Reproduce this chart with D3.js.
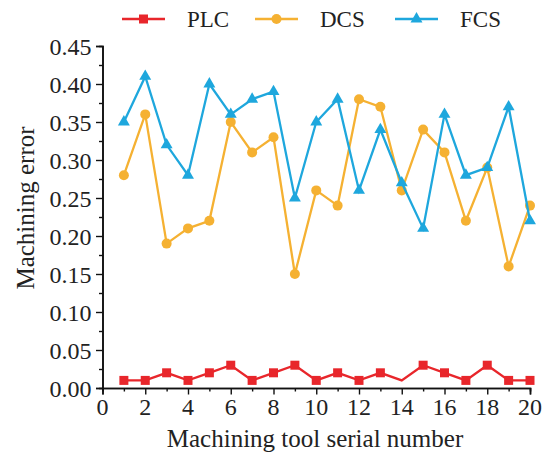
<!DOCTYPE html>
<head>
	<meta charset="utf-8">
	<script src="https://d3js.org/d3.v7.min.js"></script>
	<style>
		body { margin: 0; background: #fff; }
		svg text { font-family: "Liberation Serif", "Times New Roman", serif; fill: #222; }
	</style>
</head>
<body>
	<svg id="chart" width="542" height="457"></svg>
	<script>

	// Data
	var tools = d3.range(1, 21);
	var plc = [0.01,0.01,0.02,0.01,0.02,0.03,0.01,0.02,0.03,0.01,0.02,0.01,0.02,0.01,0.03,0.02,0.01,0.03,0.01,0.01];
	var dcs = [0.28,0.36,0.19,0.21,0.22,0.35,0.31,0.33,0.15,0.26,0.24,0.38,0.37,0.26,0.34,0.31,0.22,0.29,0.16,0.24];
	var fcs = [0.35,0.41,0.32,0.28,0.40,0.36,0.38,0.39,0.25,0.35,0.38,0.26,0.34,0.27,0.21,0.36,0.28,0.29,0.37,0.22];
	var xTicks = d3.range(0, 21, 2);
	var xMinor = d3.range(1, 20, 2);
	var yTicks = [0, 0.05, 0.10, 0.15, 0.20, 0.25, 0.30, 0.35, 0.40, 0.45];
	var yMinor = [0.025, 0.075, 0.125, 0.175, 0.225, 0.275, 0.325, 0.375, 0.425];

	var series = [
		{ name: "PLC", values: plc, color: "#e8262b", shape: "square", skip: [14] },
		{ name: "DCS", values: dcs, color: "#f5b132", shape: "circle", skip: [] },
		{ name: "FCS", values: fcs, color: "#1ea7dd", shape: "triangle", skip: [] }
	];

	var svg = d3.select("svg");
	var x = d3.scaleLinear().domain([0, 20]).range([102.5, 530]);
	var y = d3.scaleLinear().domain([0, 0.45]).range([388, 46]);

	// minor ticks (separate groups so the major axis does not remove them)
	svg.append("g").attr("transform", "translate(0," + y(0) + ")")
		.call(d3.axisBottom(x).tickValues(xMinor).tickSize(3.5).tickFormat(""));
	svg.append("g").attr("transform", "translate(" + x(0) + ",0)")
		.call(d3.axisLeft(y).tickValues(yMinor).tickSize(3.5).tickFormat(""));

	// major axes, labels drawn separately
	svg.append("g").attr("transform", "translate(0," + y(0) + ")")
		.call(d3.axisBottom(x).tickValues(xTicks).tickSize(6.5).tickFormat(""));
	svg.append("g").attr("transform", "translate(" + x(0) + ",0)")
		.call(d3.axisLeft(y).tickValues(yTicks).tickSize(6.5).tickFormat(""));
	svg.selectAll(".domain").attr("stroke", "#111").attr("stroke-width", 1.6);
	svg.selectAll(".tick line").attr("stroke", "#111").attr("stroke-width", 1.4);

	svg.append("g").selectAll("text").data(xTicks).enter().append("text")
		.attr("x", function (d) { return x(d); }).attr("y", y(0) + 27)
		.attr("text-anchor", "middle").style("font-size", "24px")
		.text(d3.format("d"));
	svg.append("g").selectAll("text").data(yTicks).enter().append("text")
		.attr("x", x(0) - 11).attr("y", function (d) { return y(d) + 8.5; })
		.attr("text-anchor", "end").style("font-size", "24px")
		.text(d3.format(".2f"));

	var line = d3.line().x(function (d, i) { return x(tools[i]); }).y(function (d) { return y(d); });

	function marker(g, shape, color, cx, cy) {
		if (shape === "square") {
			g.append("rect").attr("x", cx - 4.5).attr("y", cy - 4.5).attr("width", 9).attr("height", 9).attr("fill", color);
		} else if (shape === "circle") {
			g.append("circle").attr("cx", cx).attr("cy", cy).attr("r", 5).attr("fill", color);
		} else {
			g.append("path").attr("d", d3.symbol().type(d3.symbolTriangle).size(62)()).attr("transform", "translate(" + cx + "," + cy + ")").attr("fill", color);
		}
	}

	// draw order: PLC, DCS, FCS on top
	series.forEach(function (s) {
		var g = svg.append("g");
		g.append("path").datum(s.values).attr("d", line)
			.attr("fill", "none").attr("stroke", s.color).attr("stroke-width", 2.3);
		s.values.forEach(function (v, i) {
			if (s.skip.indexOf(tools[i]) < 0) marker(g, s.shape, s.color, x(tools[i]), y(v));
		});
	});

	// legend
	var legX = [122, 255, 395];
	series.forEach(function (s, i) {
		var g = svg.append("g");
		g.append("line").attr("x1", legX[i]).attr("x2", legX[i] + 43).attr("y1", 19).attr("y2", 19)
			.attr("stroke", s.color).attr("stroke-width", 2.3);
		marker(g, s.shape, s.color, legX[i] + 21.5, 19);
		g.append("text").attr("x", legX[i] + 65).attr("y", 27).style("font-size", "23px").text(s.name);
	});

	// axis titles
	svg.append("text").attr("x", 315).attr("y", 447).attr("text-anchor", "middle")
		.style("font-size", "25px").text("Machining tool serial number");
	svg.append("text").attr("transform", "translate(34,208) rotate(-90)").attr("text-anchor", "middle")
		.style("font-size", "25px").text("Machining error");

</script>
</body>
</html>
